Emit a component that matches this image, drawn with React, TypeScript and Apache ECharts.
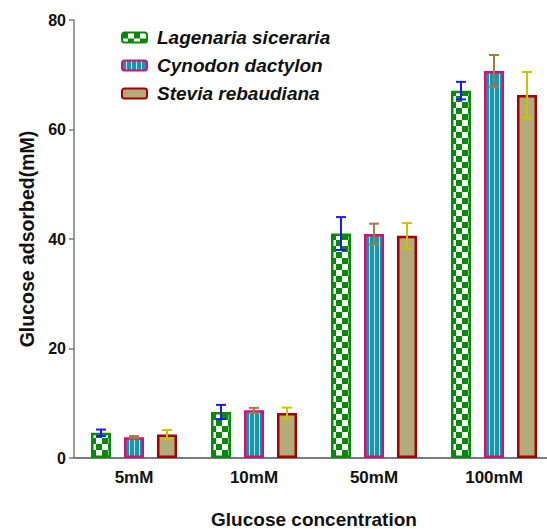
import React, { useEffect, useRef } from "react";
import * as echarts from "echarts";

const categories = ["5mM", "10mM", "50mM", "100mM"];
const seriesNames = ["Lagenaria siceraria", "Cynodon dactylon", "Stevia rebaudiana"];
const lagenaria = [4.6, 8.4, 41.0, 67.1];
const lagenariaErr = [0.6, 1.3, 3.0, 1.6];
const cynodon = [3.8, 8.7, 40.9, 70.7];
const cynodonErr = [0.2, 0.45, 1.9, 2.9];
const stevia = [4.3, 8.2, 40.6, 66.3];
const steviaErr = [0.8, 1.0, 2.3, 4.2];
const yTicks = [0, 20, 40, 60, 80];

function checkerCanvas() {
  const c = document.createElement("canvas");
  c.width = 12;
  c.height = 12;
  const g = c.getContext("2d")!;
  g.fillStyle = "#ffffff";
  g.fillRect(0, 0, 12, 12);
  g.fillStyle = "#078a07";
  g.fillRect(0, 0, 6, 6);
  g.fillRect(6, 6, 6, 6);
  return c.toDataURL();
}

function stripeCanvas() {
  const c = document.createElement("canvas");
  c.width = 5;
  c.height = 4;
  const g = c.getContext("2d")!;
  g.fillStyle = "#1796b2";
  g.fillRect(0, 0, 5, 4);
  g.fillStyle = "#b8e4ec";
  g.fillRect(4, 0, 1, 4);
  return c.toDataURL();
}

export default function App() {
  const ref = useRef<HTMLDivElement>(null);
  useEffect(() => {
    const chart = echarts.init(ref.current!, null, { renderer: "svg" });
    const checker = { image: checkerCanvas(), repeat: "repeat", imageWidth: 12, imageHeight: 12 } as any;
    const stripes = { image: stripeCanvas(), repeat: "repeat", imageWidth: 5, imageHeight: 4 } as any;

    const means = [lagenaria, cynodon, stevia];
    const errs = [lagenariaErr, cynodonErr, steviaErr];
    const fills = [checker, stripes, "#b3ab7a"];
    const borders = ["#0a8a0a", "#d6106e", "#a60000"];
    const errColors = ["#1a1aee", "#a47a44", "#cbc300"];
    const offsets = [-33, 0, 33];

    const barSeries = seriesNames.map((name, i) => ({
      name,
      type: "bar",
      data: means[i],
      barWidth: 20,
      barGap: "65%",
      itemStyle: { color: fills[i], borderColor: borders[i], borderWidth: 2.5 },
      z: 2,
    }));

    const errSeries = seriesNames.map((name, i) => ({
      name: name + " err",
      type: "custom",
      z: 5,
      data: categories.map((c, k) => [k, means[i][k], errs[i][k]]),
      renderItem: (params: any, api: any) => {
        const k = api.value(0);
        const m = api.value(1);
        const e = api.value(2);
        const top = api.coord([k, m + e]);
        const bot = api.coord([k, m - e]);
        const cx = top[0] + offsets[i];
        const style = { stroke: errColors[i], lineWidth: 2 };
        return {
          type: "group",
          children: [
            { type: "line", shape: { x1: cx, y1: top[1], x2: cx, y2: bot[1] }, style },
            { type: "line", shape: { x1: cx - 5, y1: top[1], x2: cx + 5, y2: top[1] }, style },
            { type: "line", shape: { x1: cx - 5, y1: bot[1], x2: cx + 5, y2: bot[1] }, style },
          ],
        };
      },
    }));

    chart.setOption({
      animation: false,
      textStyle: { fontFamily: "Liberation Sans, Arial, sans-serif" },
      legend: {
        data: seriesNames,
        orient: "vertical",
        left: 116,
        top: 23,
        itemWidth: 25,
        itemHeight: 10,
        itemGap: 9,
        textStyle: {
          fontSize: 19,
          fontWeight: "bold",
          fontStyle: "italic",
          color: "#111",
          padding: [0, 0, 0, 5],
        },
      },
      grid: {
        left: 74,
        top: 20,
        width: 480,
        height: 438,
        containLabel: false,
        outerBoundsMode: "none",
      },
      xAxis: {
        type: "category",
        data: categories,
        name: "Glucose concentration",
        nameLocation: "middle",
        nameGap: 52,
        nameTextStyle: { fontSize: 19, fontWeight: "bold", color: "#111" },
        axisLine: { lineStyle: { color: "#7a7a7a", width: 2 } },
        axisTick: { alignWithLabel: true, length: 6, lineStyle: { color: "#333", width: 1.5 } },
        axisLabel: { fontSize: 17, fontWeight: "bold", color: "#111", margin: 11 },
      },
      yAxis: {
        type: "value",
        min: yTicks[0],
        max: yTicks[yTicks.length - 1],
        interval: 20,
        name: "Glucose adsorbed(mM)",
        nameLocation: "middle",
        nameGap: 36,
        nameTextStyle: { fontSize: 19.5, fontWeight: "bold", color: "#111" },
        splitLine: { show: false },
        axisLine: { show: true, lineStyle: { color: "#7a7a7a", width: 1.5 } },
        axisTick: { show: true, length: 5, lineStyle: { color: "#7a7a7a", width: 1.5 } },
        axisLabel: { fontSize: 16, fontWeight: "bold", color: "#111", margin: 8 },
      },
      series: [...barSeries, ...errSeries],
    });
    return () => chart.dispose();
  }, []);
  return (
    <div
      ref={ref}
      style={{ position: "absolute", left: 0, top: 0, width: 547, height: 529 }}
    />
  );
}
